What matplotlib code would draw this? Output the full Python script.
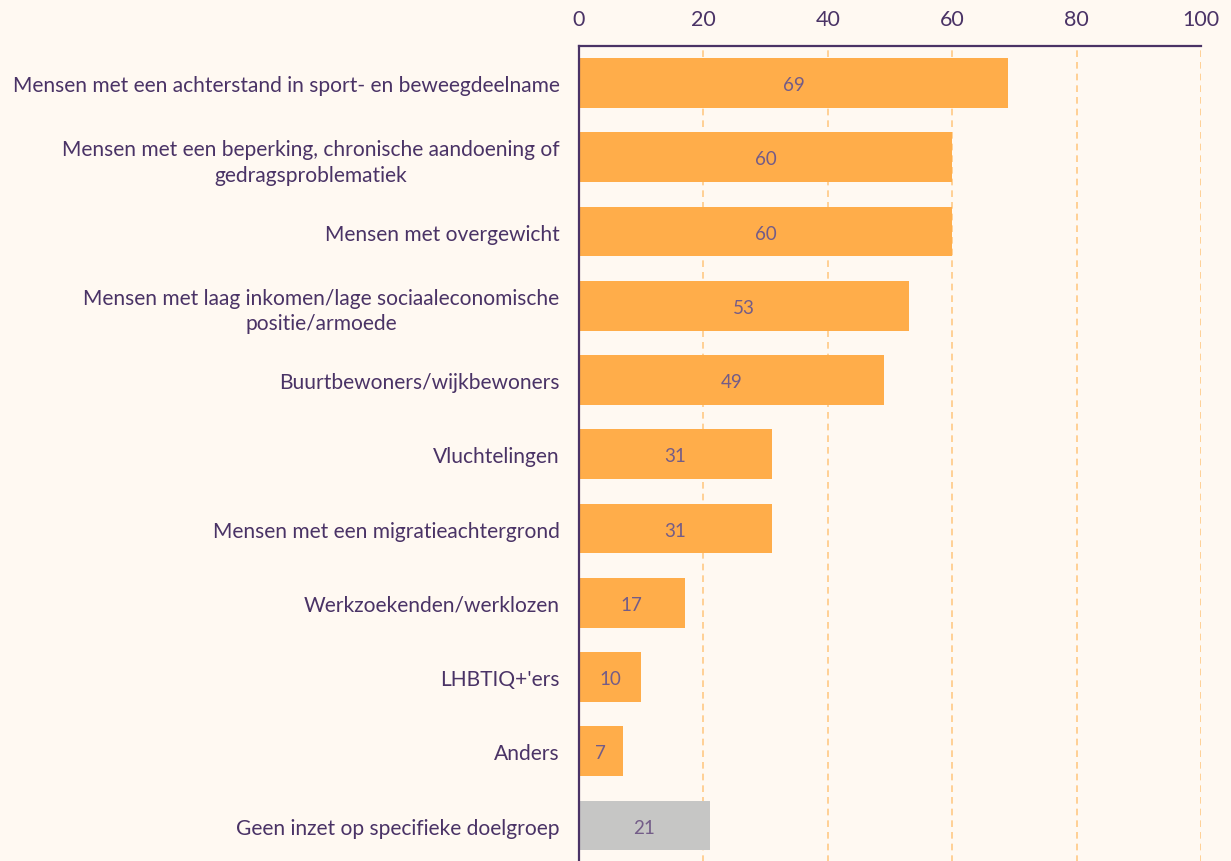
import matplotlib.pyplot as plt

categories = [
    'Mensen met een achterstand in sport- en beweegdeelname',
    'Mensen met een beperking, chronische aandoening of\ngedragsproblematiek',
    'Mensen met overgewicht',
    'Mensen met laag inkomen/lage sociaaleconomische\npositie/armoede',
    'Buurtbewoners/wijkbewoners',
    'Vluchtelingen',
    'Mensen met een migratieachtergrond',
    'Werkzoekenden/werklozen',
    "LHBTIQ+'ers",
    'Anders',
    'Geen inzet op specifieke doelgroep',
]
values = [69, 60, 60, 53, 49, 31, 31, 17, 10, 7, 21]
x_ticks = [0, 20, 40, 60, 80, 100]

BG = '#FFF9F2'
PURPLE = '#4A3366'
ORANGE = '#FFAD4A'
GREY = '#C6C6C5'


def main():
    plt.rcParams['font.family'] = ['Lato', 'DejaVu Sans']
    fig = plt.figure(figsize=(12.31, 8.62), dpi=100, facecolor=BG)
    ax = fig.add_axes([579 / 1231, -0.002, (1201 - 579) / 1231, 1 - 47 / 862 + 0.002])
    ax.set_facecolor(BG)

    colors = [ORANGE] * (len(values) - 1) + [GREY]
    ypos = list(range(len(categories)))
    bars = ax.barh(ypos, values, height=0.67, color=colors, zorder=3)

    for bar, v in zip(bars, values):
        ax.text(bar.get_width() / 2, bar.get_y() + bar.get_height() / 2 + 0.02, str(v),
                ha='center', va='center', fontsize=13.5, color='#735C88',
                fontweight='normal', zorder=4)

    ax.set_xlim(0, 100)
    ax.set_ylim(len(categories) - 0.5, -0.5)
    ax.set_xticks(x_ticks)
    ax.xaxis.tick_top()
    ax.tick_params(axis='x', length=0, pad=12, labelsize=15.5, labelcolor=PURPLE)
    ax.set_yticks(ypos)
    ax.set_yticklabels(categories, multialignment='center', linespacing=1.35)
    ax.tick_params(axis='y', length=0, pad=14, labelsize=15.1, labelcolor=PURPLE)

    ax.grid(axis='x', color='#FFC985', linestyle=(0, (4, 3)), linewidth=1.2, zorder=1)
    for side in ['right', 'bottom']:
        ax.spines[side].set_visible(False)
    for side in ['top', 'left']:
        ax.spines[side].set_color(PURPLE)
        ax.spines[side].set_linewidth(1.6)
        ax.spines[side].set_zorder(5)

    fig.savefig('out.png', dpi=100, facecolor=BG)


if __name__ == '__main__':
    main()
